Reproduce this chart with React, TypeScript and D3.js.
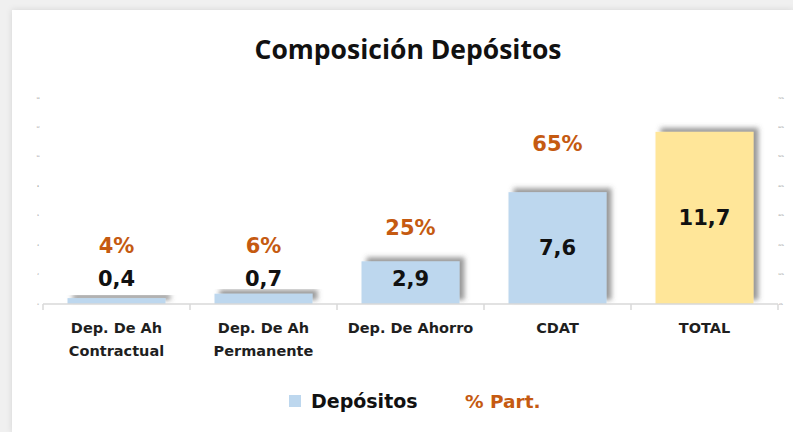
import * as d3 from "d3";

const categories = ["Dep. De Ah|Contractual", "Dep. De Ah|Permanente", "Dep. De Ahorro", "CDAT", "TOTAL"];
const depositos = [0.4, 0.7, 2.9, 7.6, 11.7];
const valueLabels = ["0,4", "0,7", "2,9", "7,6", "11,7"];
const partLabels = ["4%", "6%", "25%", "65%", ""];
const leftTicks = [0, 2, 4, 6, 8, 10, 12, 14];
const rightTicks = ["0%", "10%", "20%", "30%", "40%", "50%", "60%", "70%"];

const W = 793;
const H = 432;
const margin = { left: 43, right: 15, top: 98, bottom: 128 };
const font = "'DejaVu Sans', Verdana, sans-serif";
const orange = "#c55a11";

export default function App() {
  const x = d3
    .scaleBand()
    .domain(categories)
    .range([margin.left, W - margin.right])
    .paddingInner(1 / 3)
    .paddingOuter(1 / 6);
  const y = d3.scaleLinear().domain([0, 14]).range([H - margin.bottom, margin.top]);
  const yR = d3.scalePoint().domain(rightTicks).range([H - margin.bottom, margin.top]);
  const base = y(0);
  const step = x.step();
  const boundaries = d3.range(categories.length + 1).map((i) => margin.left + i * step);

  return (
    <div style={{ position: "fixed", left: 0, top: 0 }}>
      <svg width={W} height={H} style={{ display: "block" }}>
        <defs>
          <filter id="frame" x="-5%" y="-5%" width="110%" height="110%">
            <feDropShadow dx="0" dy="0" stdDeviation="3" floodColor="#000" floodOpacity="0.12" />
          </filter>
          <filter id="shadow" x="-20%" y="-40%" width="140%" height="180%">
            <feDropShadow dx="5" dy="-4" stdDeviation="2.5" floodColor="#555" floodOpacity="0.6" />
          </filter>
        </defs>
        <rect width={W} height={H} fill="#f0f0f0" />
        <rect x={12} y={10} width={W - 12} height={H - 10} fill="#fff" filter="url(#frame)" />

        <text
          x={408}
          y={49}
          textAnchor="middle"
          dominantBaseline="central"
          fontFamily="'Open Sans', sans-serif"
          fontWeight={700}
          fontSize={26.5}
          fill="#111"
        >
          Composición Depósitos
        </text>

        {leftTicks.map((t) => (
          <text key={t} x={38} y={y(t)} textAnchor="middle" dominantBaseline="central" fontSize={2.5} fill="#777" fontFamily={font}>
            {t}
          </text>
        ))}
        {rightTicks.map((t) => (
          <text key={t} x={781} y={yR(t)} textAnchor="middle" dominantBaseline="central" fontSize={2.5} fill="#777" fontFamily={font}>
            {t}
          </text>
        ))}

        {categories.map((c, i) => (
          <rect
            key={c}
            x={x(c)}
            y={y(depositos[i])}
            width={x.bandwidth()}
            height={base - y(depositos[i])}
            fill={c === "TOTAL" ? "#ffe699" : "#bdd7ee"}
            filter="url(#shadow)"
          />
        ))}

        <line x1={margin.left} x2={W - margin.right} y1={base} y2={base} stroke="#d9d9d9" strokeWidth={1.5} />
        {boundaries.map((b, i) => (
          <line key={i} x1={b} x2={b} y1={base} y2={base + 6} stroke="#d9d9d9" strokeWidth={1.5} />
        ))}

        {categories.map((c, i) => {
          const top = y(depositos[i]);
          const cx = x(c)! + x.bandwidth() / 2;
          const vy = Math.min((top + base) / 2, base - 25);
          const py = Math.min(vy, top) - 33 - (top < 200 ? 15 : 0);
          return (
            <g key={c} fontFamily={font} fontWeight={700} textAnchor="middle">
              <text x={cx} y={vy} dominantBaseline="central" fontSize={21} fill="#111">
                {valueLabels[i]}
              </text>
              {partLabels[i] && (
                <text x={cx} y={py} dominantBaseline="central" fontSize={21} fill={orange}>
                  {partLabels[i]}
                </text>
              )}
              {c.split("|").map((line, j) => (
                <text key={j} x={cx} y={328 + j * 23} dominantBaseline="central" fontSize={14.5} fill="#1f1f1f">
                  {line}
                </text>
              ))}
            </g>
          );
        })}

        <g fontFamily={font} fontWeight={700}>
          <rect x={289} y={395} width={12} height={12} fill="#bdd7ee" />
          <text x={311} y={401} dominantBaseline="central" fontSize={19} fill="#111">
            Depósitos
          </text>
          <text x={465} y={401} dominantBaseline="central" fontSize={18.5} fill={orange}>
            % Part.
          </text>
        </g>
      </svg>
    </div>
  );
}
